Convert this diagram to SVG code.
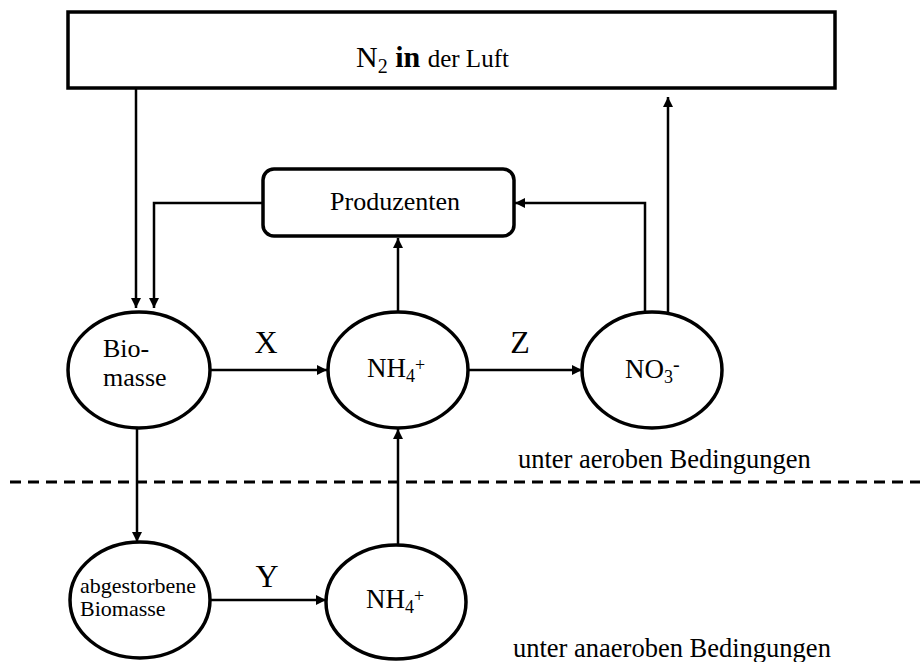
<svg xmlns="http://www.w3.org/2000/svg" width="920" height="662" viewBox="0 0 920 662">
<style>
text{font-family:"Liberation Serif","Times New Roman",serif;fill:#000}
.n{fill:#fff;stroke:#000;stroke-width:3.5}
.c{fill:none;stroke:#000;stroke-width:2.5}
.lab{font-size:32px;text-anchor:middle}
.cond{font-size:26.5px}
.chem{font-size:27px}
</style>
<defs>
<marker id="ah" viewBox="0 0 10 10" refX="10" refY="5" markerWidth="11" markerHeight="10" markerUnits="userSpaceOnUse" orient="auto">
<path d="M0,0L10,5L0,10z" fill="#000"/>
</marker>
</defs>
<rect width="920" height="662" fill="#fff"/>
<g id="connectors">
<path class="c" d="M136,88V308" marker-end="url(#ah)"/>
<path class="c" d="M263,203H154V308" marker-end="url(#ah)"/>
<path class="c" d="M645,313V203H515" marker-end="url(#ah)"/>
<path class="c" d="M668,313V97" marker-end="url(#ah)"/>
<path class="c" d="M398,313V238" marker-end="url(#ah)"/>
<path class="c" d="M210,370H327" marker-end="url(#ah)"/>
<path class="c" d="M468,370H582" marker-end="url(#ah)"/>
<path class="c" d="M137,428V542" marker-end="url(#ah)"/>
<path class="c" d="M398,545V429" marker-end="url(#ah)"/>
<path class="c" d="M211,600H326" marker-end="url(#ah)" stroke-width="3.5"/>
<path d="M10,482H920" stroke="#000" stroke-width="3" stroke-dasharray="11,7"/>
</g>
<g id="luft">
<rect class="n" x="68" y="12" width="767" height="76"/>
<text x="356" y="67" font-size="30">N<tspan font-size="20" dy="6">2</tspan><tspan dy="-6" font-weight="bold"> in </tspan><tspan font-size="25">der Luft</tspan></text>
</g>
<g id="produzenten">
<rect class="n" x="263" y="169" width="251" height="67" rx="11"/>
<text x="395" y="210" font-size="26" text-anchor="middle">Produzenten</text>
</g>
<g id="biomasse">
<ellipse class="n" cx="139" cy="370" rx="71" ry="58"/>
<text x="103" y="357" font-size="26">Bio-</text>
<text x="103" y="386" font-size="26">masse</text>
</g>
<g id="nh4a">
<ellipse class="n" cx="398" cy="370" rx="70" ry="58"/>
<text x="367" y="377" class="chem">NH<tspan font-size="18" dy="5">4</tspan><tspan font-size="18" dy="-11">+</tspan></text>
</g>
<g id="no3">
<ellipse class="n" cx="652" cy="370" rx="70" ry="58"/>
<text x="625" y="378" class="chem">NO<tspan font-size="18" dy="5">3</tspan><tspan font-size="20" dy="-12">-</tspan></text>
</g>
<g id="abgestorben">
<ellipse class="n" cx="140" cy="600" rx="70" ry="58"/>
<text x="80" y="593" font-size="22">abgestorbene</text>
<text x="80" y="616" font-size="22">Biomasse</text>
</g>
<g id="nh4b">
<ellipse class="n" cx="396" cy="602" rx="70" ry="57"/>
<text x="366" y="608" class="chem">NH<tspan font-size="18" dy="5">4</tspan><tspan font-size="18" dy="-11">+</tspan></text>
</g>
<g id="labels">
<text x="266" y="353" class="lab">X</text>
<text x="520" y="353" class="lab">Z</text>
<text x="267" y="587" class="lab">Y</text>
<text x="518" y="468" class="cond">unter aeroben Bedingungen</text>
<text x="513" y="657" class="cond">unter anaeroben Bedingungen</text>
</g>
</svg>
